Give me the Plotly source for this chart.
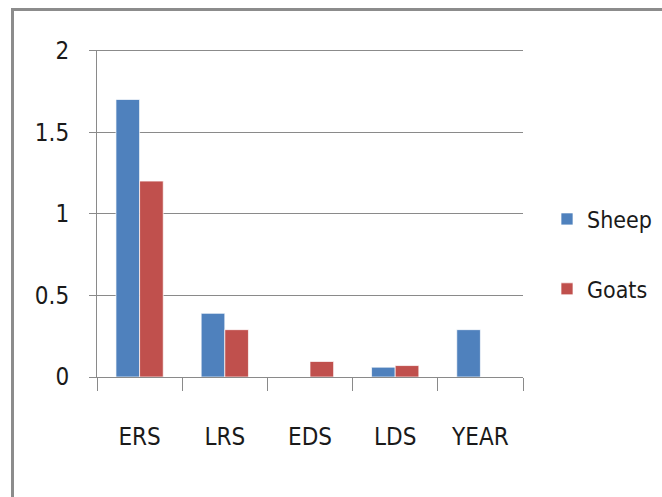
import plotly.graph_objects as go

# Season categories and per-species values
categories = ["ERS", "LRS", "EDS", "LDS", "YEAR"]
sheep = [1.7, 0.39, 0.0, 0.06, 0.29]
goats = [1.2, 0.29, 0.095, 0.07, 0.0]
y_ticks = [0, 0.5, 1, 1.5, 2]
y_tick_labels = ["0", "0.5", "1", "1.5", "2"]

FONT = "DejaVu Sans Condensed, Liberation Sans Narrow, Liberation Sans, sans-serif"
GRID = "#8a8a8a"

W, H = 662, 497
L, T, B = 97, 50, 120
PAPER_W = W - L
PLOT_W = 426

fig = go.Figure()
fig.add_trace(go.Bar(
    x=categories, y=sheep, name="Sheep", legendgroup="a",
    marker=dict(color="#4F81BD", line=dict(color="rgba(255,255,255,0.7)", width=1)),
))
fig.add_trace(go.Bar(
    x=categories, y=goats, name="Goats", legendgroup="b",
    marker=dict(color="#C0504D", line=dict(color="rgba(255,255,255,0.7)", width=1)),
))

fig.update_layout(
    width=W, height=H,
    margin=dict(l=L, r=0, t=T, b=B),
    paper_bgcolor="white", plot_bgcolor="white",
    barmode="group", bargap=0.445, bargroupgap=0,
    font=dict(family=FONT, size=24, color="#1a1a1a"),
    showlegend=True,
    legend=dict(
        x=(547 - L) / PAPER_W, xanchor="left", y=0.549, yanchor="top",
        tracegroupgap=37, font=dict(size=23, family=FONT),
        bgcolor="rgba(0,0,0,0)",
    ),
    xaxis=dict(
        domain=[0, PLOT_W / PAPER_W],
        showline=True, linecolor=GRID, linewidth=1,
        ticks="outside", tickson="boundaries", ticklen=13, tickcolor=GRID,
        ticklabelstandoff=38, showgrid=False,
    ),
    yaxis=dict(
        range=[0, 2.003], tickvals=y_ticks, ticktext=y_tick_labels,
        showline=True, linecolor=GRID, linewidth=1,
        ticks="outside", ticklen=7, tickcolor=GRID,
        showgrid=True, gridcolor=GRID, gridwidth=1,
        ticklabelstandoff=15, zeroline=False,
    ),
)

# Top gridline at the axis maximum
fig.add_shape(
    type="line", xref="x domain", yref="y",
    x0=0, x1=1, y0=y_ticks[-1], y1=y_ticks[-1],
    line=dict(color=GRID, width=1), layer="below",
)

# Chart frame (runs off the right and bottom of the page)
plot_h = H - T - B
fig.add_shape(
    type="rect", xref="paper", yref="paper",
    x0=(12.5 - L) / PAPER_W, x1=(700 - L) / PAPER_W,
    y0=(377 - 540) / plot_h, y1=(377 - 9.5) / plot_h,
    line=dict(color="#8c8c8c", width=3), fillcolor="rgba(0,0,0,0)",
    layer="below",
)

fig.write_html("out.html")
